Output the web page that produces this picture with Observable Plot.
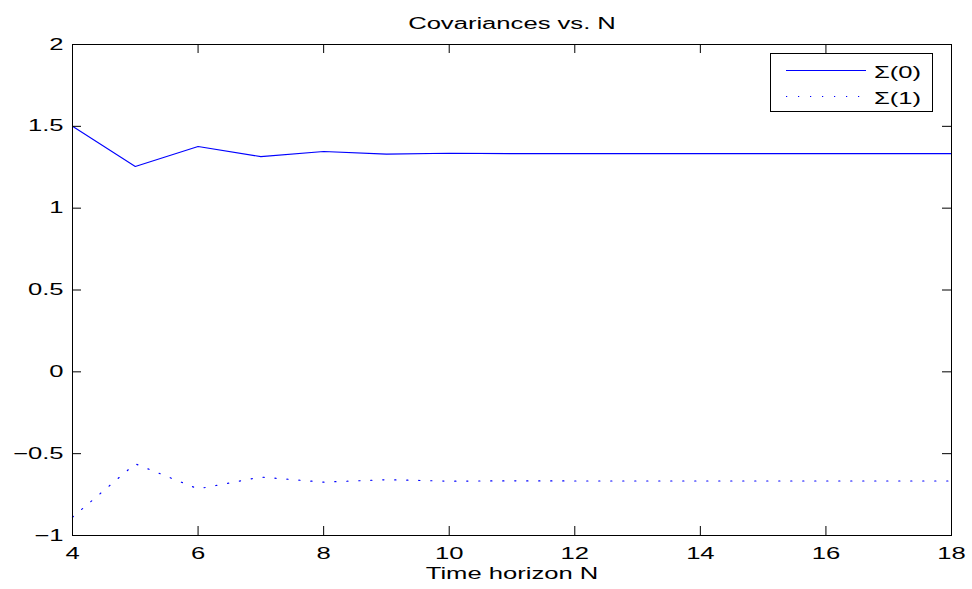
<!DOCTYPE html>
<html>
<head>
<meta charset="utf-8">
<script src="https://cdn.jsdelivr.net/npm/d3@7"></script>
<script src="https://cdn.jsdelivr.net/npm/@observablehq/plot@0.6"></script>
<style>
  body { margin: 0; background: #fff; }
  #wrap { position: relative; width: 972px; height: 589px; overflow: hidden; }
  #wrap svg { display: block; }
</style>
</head>
<body>
<div id="wrap"></div>
<script>
// ---- data ----
const N = [4, 5, 6, 7, 8, 9, 10, 11, 12, 13, 14, 15, 16, 17, 18];
const sigma0 = [1.5, 1.255, 1.377, 1.315, 1.346, 1.330, 1.336, 1.333, 1.333, 1.333, 1.333, 1.333, 1.333, 1.333, 1.333];
const sigma1 = [-0.888, -0.562, -0.715, -0.643, -0.674, -0.659, -0.668, -0.666, -0.667, -0.667, -0.667, -0.667, -0.667, -0.667, -0.667];
const seriesNames = ["Σ(0)", "Σ(1)"];
const xTicks = [4, 6, 8, 10, 12, 14, 16, 18];
const yTicks = [-1, -0.5, 0, 0.5, 1, 1.5, 2];
const yTickLabels = ["−1", "−0.5", "0", "0.5", "1", "1.5", "2"];
const titleText = "Covariances vs. N";
const xLabel = "Time horizon N";

// ---- layout / style ----
const W = 972, H = 589;
const mL = 72, mR = 21, mT = 44, mB = 54;
const fw = W - mL - mR, fh = H - mT - mB;
const tick = 9;
const FONT = "'Liberation Sans', Arial, Helvetica, sans-serif";
const STRETCH = 1.6;
const blue = "#0000ff";

const rows0 = N.map((n, i) => ({N: n, v: sigma0[i], s: seriesNames[0]}));
const rows1 = N.map((n, i) => ({N: n, v: sigma1[i], s: seriesNames[1]}));

const plot = Plot.plot({
  width: W, height: H,
  marginLeft: mL, marginRight: mR, marginTop: mT, marginBottom: mB,
  style: {fontFamily: FONT, fontSize: "16px", background: "white", color: "black"},
  x: {domain: [4, 18]},
  y: {domain: [-1, 2]},
  marks: [
    Plot.line(rows0, {x: "N", y: "v", stroke: blue, strokeWidth: 1.1}),
    Plot.line(rows1, {x: "N", y: "v", stroke: blue, strokeWidth: 1.2, strokeDasharray: "1.2,10.8"}),
    Plot.tickY(yTicks, {y: d => d, stroke: "black", insetRight: fw - tick}),
    Plot.tickY(yTicks, {y: d => d, stroke: "black", insetLeft: fw - tick}),
    Plot.tickX(xTicks, {x: d => d, stroke: "black", insetBottom: fh - tick}),
    Plot.tickX(xTicks, {x: d => d, stroke: "black", insetTop: fh - tick}),
    Plot.frame({stroke: "black", strokeWidth: 1}),
    Plot.axisX({ticks: xTicks, tickSize: 0, tickPadding: 12, label: null, tickFormat: d => String(d), fontSize: 16}),
    Plot.axisY({ticks: yTicks, tickSize: 0, tickPadding: 9, label: null, tickFormat: d => yTickLabels[yTicks.indexOf(d)], fontSize: 16}),
    Plot.text([titleText], {frameAnchor: "top", lineAnchor: "bottom", dy: -16, text: d => d, fontSize: 16, fill: "black"}),
    Plot.text([xLabel], {frameAnchor: "bottom", lineAnchor: "bottom", dy: 43, text: d => d, fontSize: 16, fill: "black"})
  ]
});

const wrap = document.getElementById("wrap");
wrap.appendChild(plot);

// ---- legend overlay ----
const ov = d3.select(wrap).append("svg")
  .attr("width", W).attr("height", H)
  .style("position", "absolute").style("left", "0px").style("top", "0px")
  .style("pointer-events", "none")
  .attr("font-family", FONT).attr("font-size", 16);

ov.append("rect")
  .attr("x", 770.5).attr("y", 53.5).attr("width", 162).attr("height", 58)
  .attr("fill", "white").attr("stroke", "black").attr("stroke-width", 1);

const legendRows = [
  {name: seriesNames[0], y: 70.5, dash: null, sw: 1},
  {name: seriesNames[1], y: 96.5, dash: "1.2,10.8", sw: 1.2}
];
legendRows.forEach(r => {
  const ln = ov.append("line")
    .attr("x1", 786).attr("x2", 866).attr("y1", r.y).attr("y2", r.y)
    .attr("stroke", blue).attr("stroke-width", r.sw);
  if (r.dash) ln.attr("stroke-dasharray", r.dash);
  ov.append("text").attr("x", 874).attr("y", r.y + 7).attr("fill", "black").text(r.name);
});

// ---- horizontal stretch of all text (matches the reference's wide glyphs) ----
wrap.querySelectorAll("text").forEach(t => {
  const w = t.getComputedTextLength();
  if (w > 0) {
    t.setAttribute("textLength", (w * STRETCH).toFixed(2));
    t.setAttribute("lengthAdjust", "spacingAndGlyphs");
  }
});
</script>
</body>
</html>
